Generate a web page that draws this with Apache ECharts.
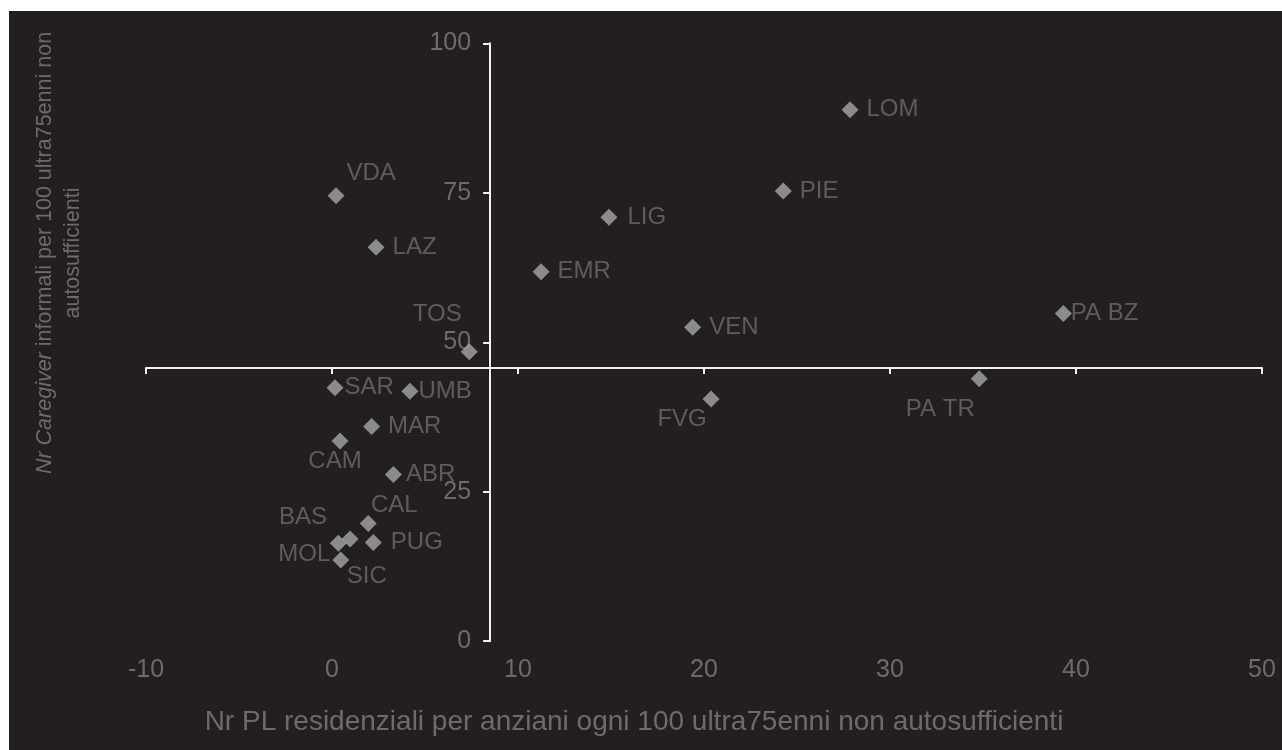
<!DOCTYPE html>
<html>
<head>
<meta charset="utf-8">
<script src="https://cdn.jsdelivr.net/npm/echarts@6/dist/echarts.min.js"></script>
<style>
  html, body { margin: 0; padding: 0; background: #ffffff; }
  #wrap { position: relative; width: 1282px; height: 750px; background: #ffffff; overflow: hidden; }
  #chart { position: absolute; left: 9px; top: 11px; width: 1273px; height: 739px; background: #231f20; }
</style>
</head>
<body>
<div id="wrap"><div id="chart"></div></div>
<script>
// ---- data ----
const regions = ['LOM','PIE','LIG','EMR','VDA','LAZ','VEN','FVG','PA BZ','PA TR','TOS','SAR','UMB','MAR','CAM','ABR','CAL','PUG','BAS','MOL','SIC'];
const plResidenziali = [27.85, 24.26, 14.89, 11.24, 0.22, 2.37, 19.39, 20.38, 39.32, 34.80, 7.38, 0.16, 4.19, 2.13, 0.43, 3.30, 1.95, 2.22, 0.97, 0.34, 0.47];
const caregiverInformali = [88.9, 75.3, 70.9, 61.8, 74.5, 65.9, 52.5, 40.5, 54.8, 43.9, 48.4, 42.4, 41.8, 35.9, 33.5, 27.9, 19.7, 16.5, 17.1, 16.4, 13.6];
const xTickLabels = [-10, 0, 10, 20, 30, 40, 50];
const yTickLabels = [0, 25, 50, 75, 100];
const xCrossValue = 8.5;   // where the vertical axis crosses
const yCrossValue = 45.7;  // where the horizontal axis crosses
const xTitle = 'Nr PL residenziali per anziani ogni 100 ultra75enni non autosufficienti';
const yTitleItalic = 'Nr Caregiver';
const yTitleRest = ' informali per 100 ultra75enni non';
const yTitleLine2 = 'autosufficienti';

// ---- label layout (styling only): offset of label centre from the marker centre ----
const labelLayout = {
  'VDA':   { offset: [35, -22] },
  'FVG':   { offset: [-29, 20] },
  'PA TR': { offset: [-39, 31] },
  'TOS':   { offset: [-32, -37] },
  'CAM':   { offset: [-5, 20] },
  'CAL':   { offset: [26, -18] },
  'BAS':   { offset: [-47, -22] },
  'MOL':   { offset: [-34, 11] },
  'SIC':   { offset: [26, 16] },
  'PA BZ': { distance: -1 },
  'SAR':   { distance: 1 },
  'UMB':   { distance: 0 },
  'ABR':   { distance: 4 },
  'LIG':   { distance: 10 },
  'PUG':   { distance: 9 }
};

const FONT = '"Liberation Sans", Arial, Helvetica, sans-serif';
const TEXT_GRAY = '#6b6b6d';
const AXIS_WHITE = '#f2f2f2';
const SYMBOL_SIZE = 17;

const chart = echarts.init(document.getElementById('chart'), null, { renderer: 'canvas' });

const xMin = xTickLabels[0], xMax = xTickLabels[xTickLabels.length - 1];
const xInt = xTickLabels[1] - xTickLabels[0];
const yMin = yTickLabels[0], yMax = yTickLabels[yTickLabels.length - 1];
const yInt = yTickLabels[1] - yTickLabels[0];

const seriesData = regions.map((name, i) => {
  const lay = labelLayout[name] || {};
  const item = { name: name, value: [plResidenziali[i], caregiverInformali[i]] };
  if (lay.offset) {
    item.label = {
      position: [SYMBOL_SIZE / 2 + lay.offset[0], SYMBOL_SIZE / 2 + lay.offset[1]],
      align: 'center', verticalAlign: 'middle'
    };
  } else if (lay.distance !== undefined) {
    item.label = { distance: lay.distance };
  }
  return item;
});

const grid = { left: 137, right: 20, top: 32.3, bottom: 108.8, containLabel: false };

function buildOption(xOffset, yOffset) {
  return {
    backgroundColor: 'transparent',
    animation: false,
    grid: grid,
    xAxis: [
      {
        type: 'value', min: xMin, max: xMax, interval: xInt, position: 'bottom',
        axisLine: { show: false }, axisTick: { show: false }, splitLine: { show: false },
        axisLabel: { color: TEXT_GRAY, fontSize: 25, fontFamily: FONT, margin: 16 }
      },
      {
        type: 'value', min: xMin, max: xMax, interval: xInt, position: 'bottom', offset: xOffset,
        axisLine: { show: true, onZero: false, lineStyle: { color: AXIS_WHITE, width: 2 } },
        axisTick: { show: true, inside: false, length: 6, lineStyle: { color: AXIS_WHITE, width: 2 } },
        axisLabel: { show: false }, splitLine: { show: false }
      }
    ],
    yAxis: [
      {
        type: 'value', min: yMin, max: yMax, interval: yInt, position: 'left', offset: yOffset,
        axisLine: { show: true, onZero: false, lineStyle: { color: AXIS_WHITE, width: 2 } },
        axisTick: { show: true, inside: false, length: 7, lineStyle: { color: AXIS_WHITE, width: 2 } },
        axisLabel: { color: TEXT_GRAY, fontSize: 25, fontFamily: FONT, margin: 19 },
        splitLine: { show: false }
      }
    ],
    graphic: [
      {
        type: 'text', x: 625, y: 711, z: 10,
        style: {
          text: xTitle, fill: TEXT_GRAY, font: '28px ' + FONT,
          align: 'center', verticalAlign: 'middle'
        }
      },
      {
        type: 'text', x: 50, y: 242, rotation: Math.PI / 2, z: 10,
        style: {
          text: '{it|' + yTitleItalic + '}' + yTitleRest + '\n' + yTitleLine2,
          fill: TEXT_GRAY, fontSize: 21.5, fontFamily: FONT, lineHeight: 28,
          align: 'center', verticalAlign: 'middle',
          rich: { it: { fontStyle: 'italic', fontSize: 21.5, fontFamily: FONT, fill: TEXT_GRAY, lineHeight: 28 } }
        }
      }
    ],
    series: [
      {
        type: 'scatter', xAxisIndex: 0, yAxisIndex: 0,
        symbol: 'diamond', symbolSize: SYMBOL_SIZE,
        itemStyle: { color: '#a5a5a7' },
        label: {
          show: true, position: 'right', distance: 8,
          formatter: '{b}', color: TEXT_GRAY, fontSize: 24, fontFamily: FONT
        },
        labelLayout: { hideOverlap: false },
        emphasis: { disabled: true },
        data: seriesData
      }
    ]
  };
}

chart.setOption(buildOption(0, 0));
// compute where the crossing axes sit, from the axis scales
const gridRect = chart.getModel().getComponent('grid', 0).coordinateSystem.getRect();
const crossYpx = chart.convertToPixel({ yAxisIndex: 0 }, yCrossValue);
const crossXpx = chart.convertToPixel({ xAxisIndex: 0 }, xCrossValue);
const xOffset = -((gridRect.y + gridRect.height) - crossYpx);
const yOffset = -(crossXpx - gridRect.x);
chart.setOption(buildOption(xOffset, yOffset), true);
</script>
</body>
</html>
